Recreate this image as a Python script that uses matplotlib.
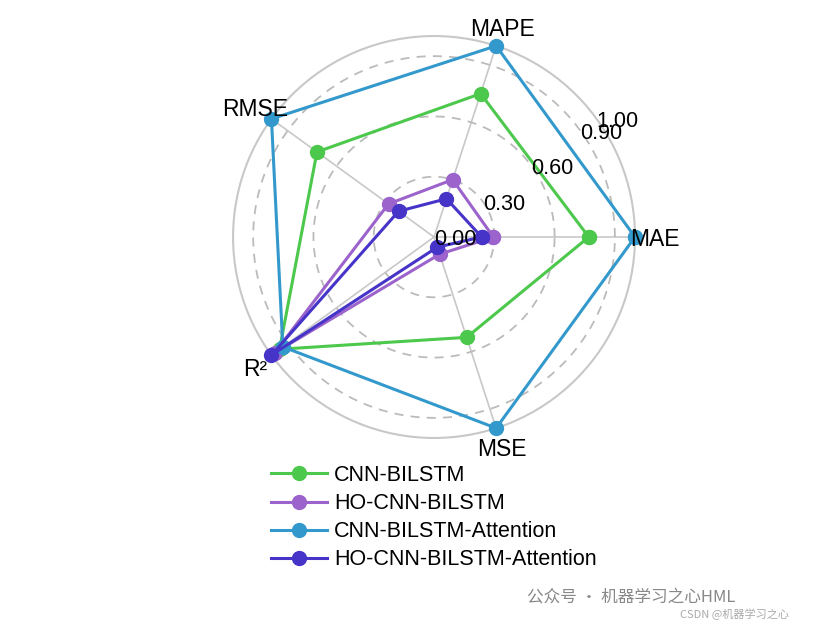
import numpy as np
import matplotlib.pyplot as plt

plt.rcParams["font.family"] = ["Liberation Sans", "DejaVu Sans"]

# metrics (normalised) per model
metrics = ["MAE", "MAPE", "RMSE", "R²", "MSE"]
models = ["CNN-BILSTM", "HO-CNN-BILSTM", "CNN-BILSTM-Attention", "HO-CNN-BILSTM-Attention"]
cnn_bilstm = [0.77, 0.75, 0.72, 0.95, 0.525]
ho_cnn_bilstm = [0.295, 0.30, 0.28, 0.98, 0.09]
cnn_bilstm_att = [1.00, 1.00, 1.00, 0.93, 1.00]
ho_cnn_bilstm_att = [0.237, 0.20, 0.218, 1.00, 0.053]
colors = ["#4CC84C", "#9B63CB", "#3399CC", "#4634C8"]
rticks = [0.0, 0.3, 0.6, 0.9, 1.0]

series = [cnn_bilstm, ho_cnn_bilstm, cnn_bilstm_att, ho_cnn_bilstm_att]
angles = np.linspace(0, 2 * np.pi, len(metrics), endpoint=False)

fig = plt.figure(figsize=(8.4, 6.3), dpi=100)
ax = fig.add_axes([0.2774, 0.3048, 0.4786, 0.638], projection="polar")

for vals, name, c in zip(series, models, colors):
    a = np.append(angles, angles[0])
    v = np.append(vals, vals[0])
    ax.plot(a, v, color=c, lw=2.2, marker="o", ms=10, label=name, clip_on=False, zorder=3)

ax.set_ylim(0, 1)
ax.set_yticks(rticks)
ax.set_yticklabels([])
ax.set_xticks(angles)
ax.set_xticklabels([])
ax.grid(False)

# spokes and rings
for t in angles:
    ax.plot([t, t], [0, 1], color="#C8C8C8", lw=1.2, zorder=0)
ring = np.linspace(0, 2 * np.pi, 300)
for r in rticks[1:-1]:
    ax.plot(ring, np.full_like(ring, r), color="#BBBBBB", lw=1.3, ls=(0, (5, 4)), zorder=0)
ax.spines["polar"].set_color("#C8C8C8")
ax.spines["polar"].set_linewidth(1.5)
ax.spines["polar"].set_zorder(1)

for r in rticks:
    ax.text(np.deg2rad(36), r, f"{r:.2f}", ha="left", va="center_baseline", fontsize=15.5, zorder=10)

for t, m in zip(angles, metrics):
    ax.text(t, 1.1, m, ha="center", va="center_baseline", fontsize=16.5, clip_on=False, zorder=10)

fig.legend(loc="upper center", bbox_to_anchor=(434 / 840, 1 - 465 / 630), frameon=False,
           fontsize=15.5, handlelength=2.6, handletextpad=0.3, labelspacing=0.33,
           borderpad=0, borderaxespad=0)

fig.text(527 / 840, 1 - 597 / 630, "公众号 · 机器学习之心HML", fontsize=12, color="#888888",
         va="center", family=["Noto Sans CJK SC", "DejaVu Sans"])
fig.text(680 / 840, 1 - 614 / 630, "CSDN @机器学习之心", fontsize=8, color="#AAAAAA",
         va="center", family=["Noto Sans CJK SC", "DejaVu Sans"])

fig.savefig("out.png", dpi=100)
